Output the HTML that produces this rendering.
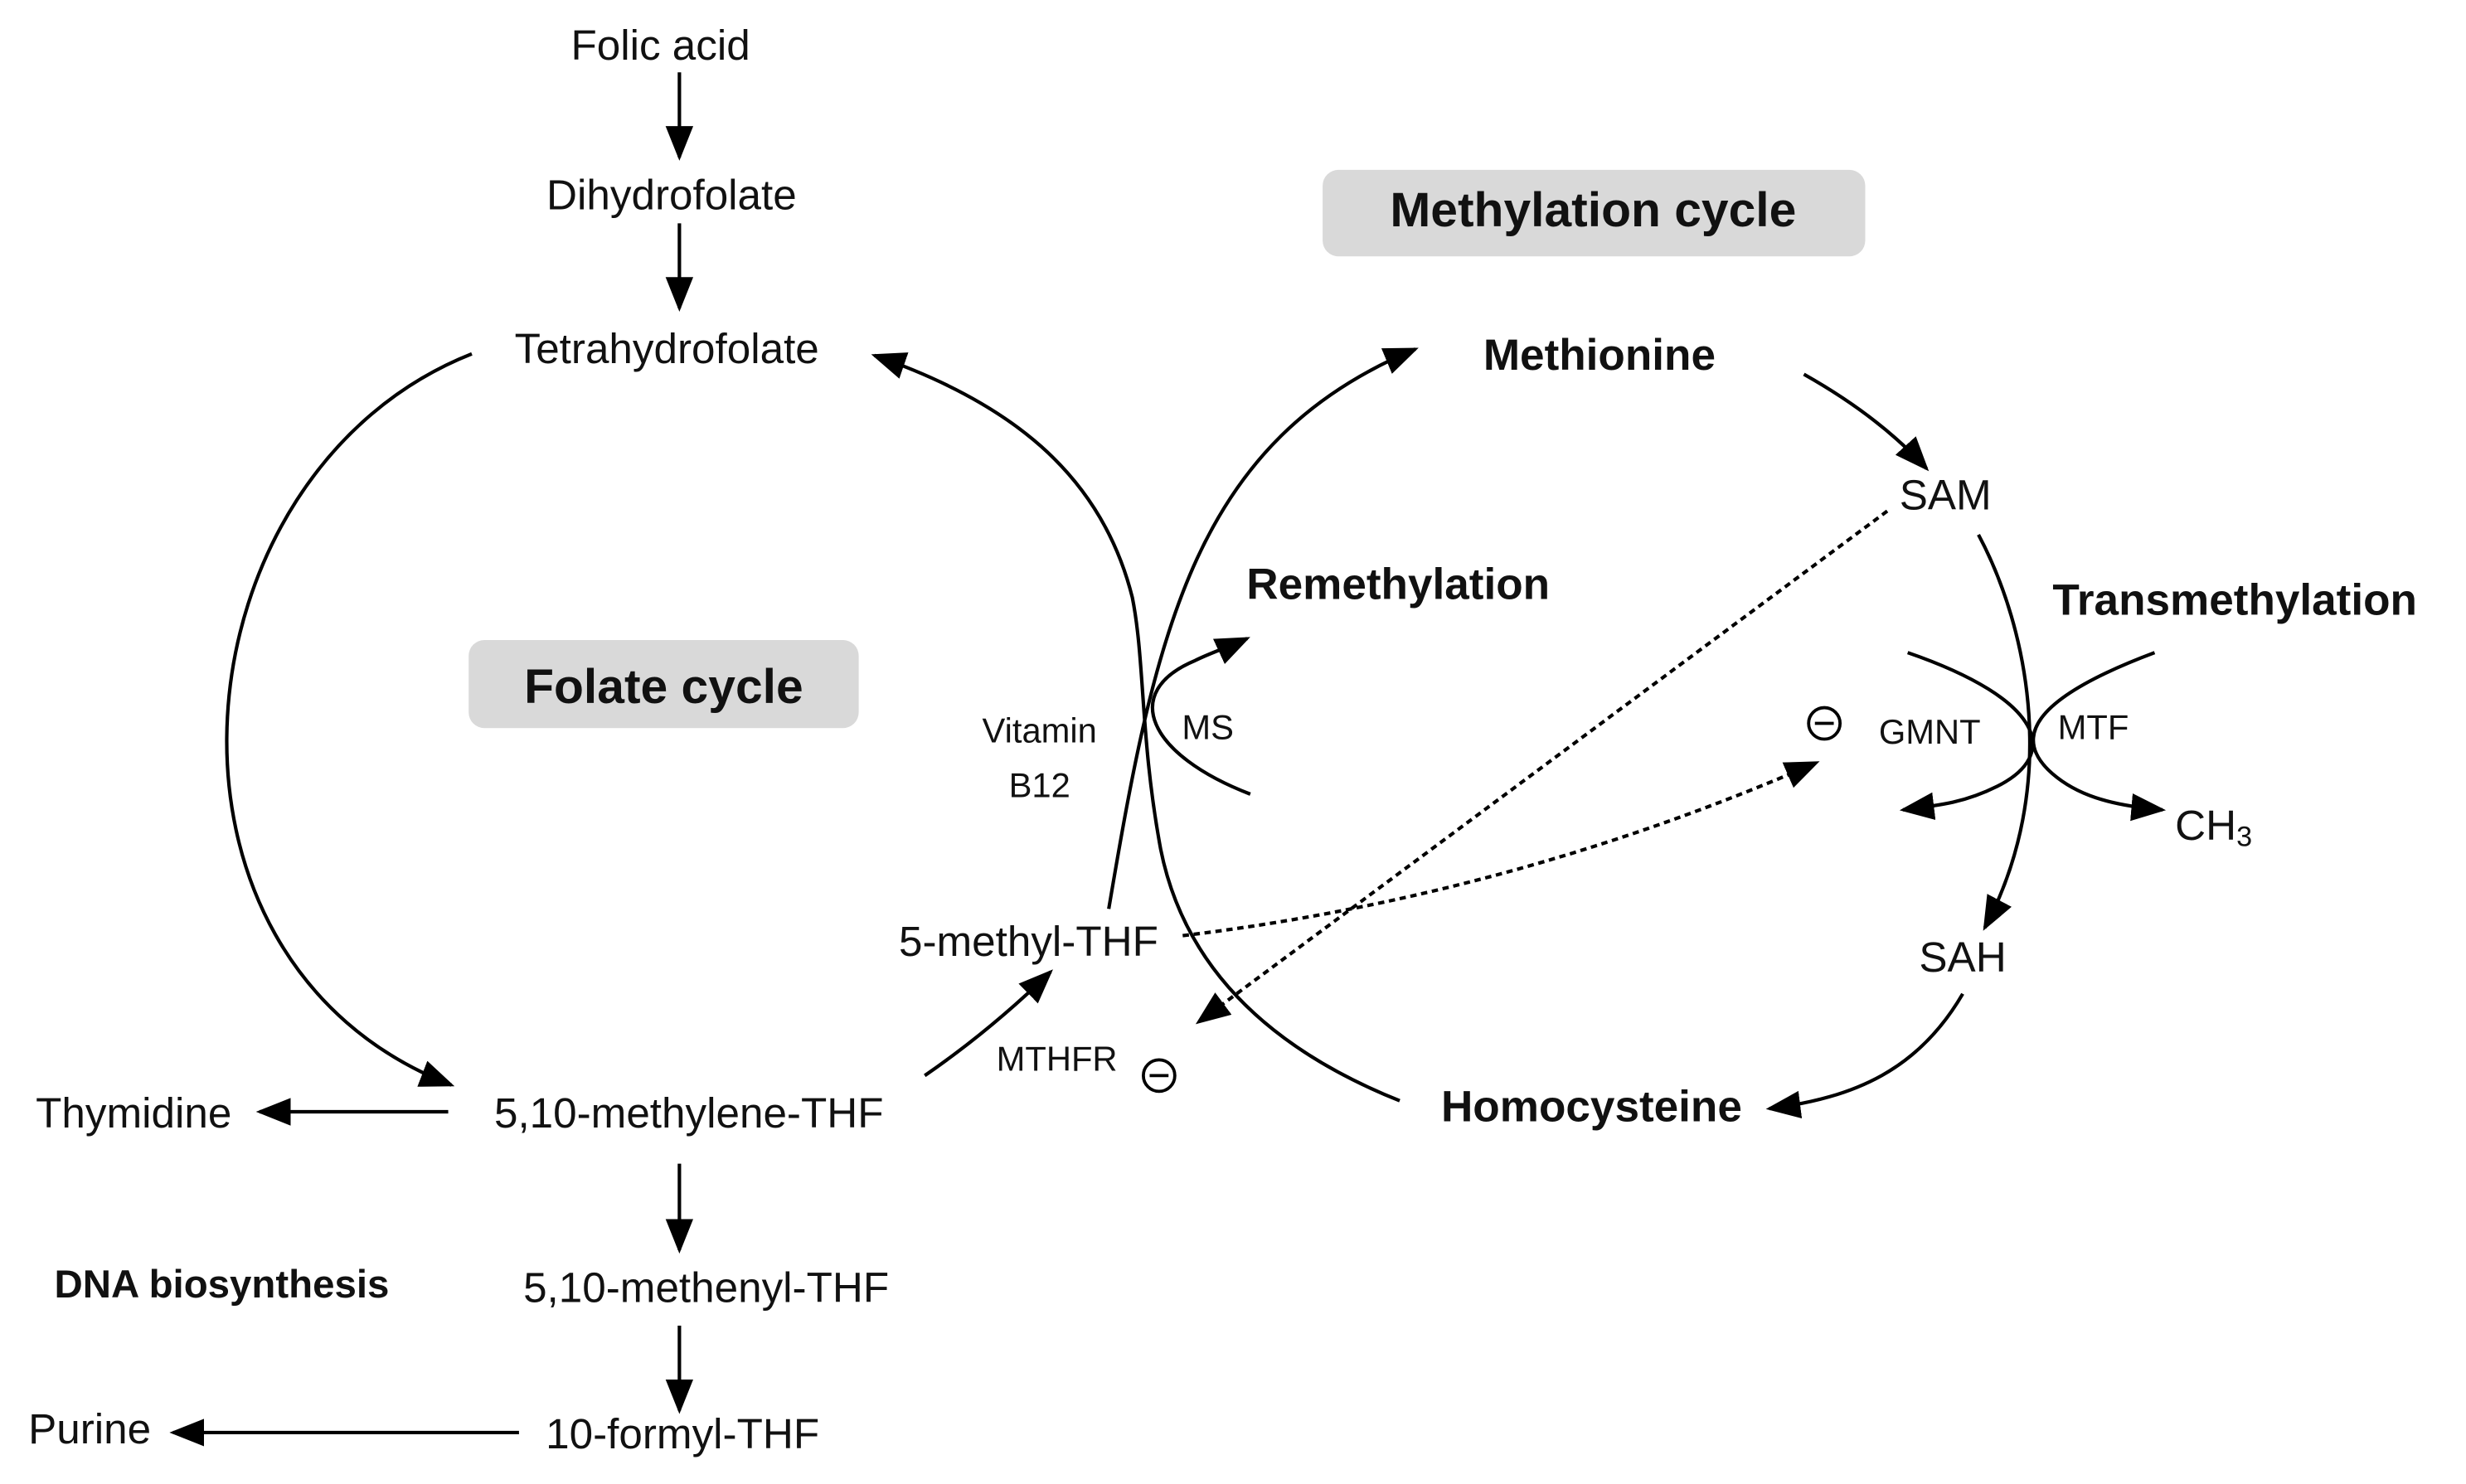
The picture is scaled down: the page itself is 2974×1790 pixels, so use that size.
<!DOCTYPE html>
<html><head><meta charset="utf-8"><style>html,body{margin:0;padding:0;background:#fff}svg{display:block}</style></head>
<body>
<svg width="2974" height="1790" viewBox="0 0 1568 943.7" xmlns="http://www.w3.org/2000/svg" font-family="Liberation Sans, Arial, sans-serif">
<defs>
<marker id="a" viewBox="0 0 10 10" refX="9" refY="5" markerWidth="9" markerHeight="9" markerUnits="userSpaceOnUse" orient="auto"><path d="M0,0 L10,5 L0,10 z" fill="#000"/></marker>
<marker id="b" viewBox="0 0 10 10" refX="9" refY="5" markerWidth="22" markerHeight="22" markerUnits="userSpaceOnUse" orient="auto"><path d="M0,1 L10,5 L0,9 z" fill="#000"/></marker>
</defs>
<rect x="841" y="108" width="345" height="55" rx="10" fill="#d9d9d9"/>
<rect x="298" y="407" width="248" height="56" rx="10" fill="#d9d9d9"/>
<g fill="none" stroke="#000" stroke-width="2.2">
<line x1="432" y1="46" x2="432" y2="100" marker-end="url(#b)"/>
<line x1="432" y1="142" x2="432" y2="196" marker-end="url(#b)"/>
<line x1="432" y1="740" x2="432" y2="795" marker-end="url(#b)"/>
<line x1="432" y1="843" x2="432" y2="897" marker-end="url(#b)"/>
<line x1="285" y1="707" x2="165" y2="707" marker-end="url(#b)"/>
<line x1="330" y1="911" x2="110" y2="911" marker-end="url(#b)"/>
<path d="M300,225 C110,300 80,610 287,690" marker-end="url(#b)"/>
<path d="M588,684 Q630,655 668,618" marker-end="url(#b)"/>
<path d="M890,700 C790,660 750,600 738,540 C725,470 728,420 720,380 C700,300 640,255 556,226" marker-end="url(#b)"/>
<path d="M705,578 C735,400 760,280 900,222" marker-end="url(#b)"/>
<path d="M795,505 C730,480 712,440 760,420 C770,415 780,412 793,406" marker-end="url(#b)"/>
<path d="M1147,238 Q1195,265 1225,298" marker-end="url(#b)"/>
<path d="M1258,340 C1290,400 1310,500 1262,590" marker-end="url(#b)"/>
<path d="M1248,632 C1220,680 1180,698 1125,705" marker-end="url(#b)"/>
<path d="M1213,415 C1300,445 1310,480 1270,500 C1250,510 1235,512 1210,515" marker-end="url(#b)"/>
<path d="M1370,415 C1290,445 1280,470 1305,492 C1320,505 1340,512 1375,515" marker-end="url(#b)"/>
</g>
<g fill="none" stroke="#000" stroke-width="2.2" stroke-dasharray="4,3">
<path d="M1200,325 L762,650" marker-end="url(#b)"/>
<path d="M752,595 Q960,570 1155,485" marker-end="url(#b)"/>
</g>
<g fill="#fff" stroke="#000" stroke-width="2"><circle cx="1160" cy="460" r="10"/><circle cx="737" cy="684" r="10"/></g>
<g stroke="#000" stroke-width="2"><line x1="1154" y1="460" x2="1166" y2="460"/><line x1="731" y1="684" x2="743" y2="684"/></g>
<g font-size="27" fill="#111">
<text x="420" y="38" text-anchor="middle">Folic acid</text>
<text x="427" y="133" text-anchor="middle">Dihydrofolate</text>
<text x="424" y="231" text-anchor="middle">Tetrahydrofolate</text>
<text x="1237" y="324" text-anchor="middle">SAM</text>
<text x="1248" y="618" text-anchor="middle">SAH</text>
<text x="654" y="608" text-anchor="middle">5-methyl-THF</text>
<text x="438" y="717" text-anchor="middle">5,10-methylene-THF</text>
<text x="85" y="717" text-anchor="middle">Thymidine</text>
<text x="449" y="828" text-anchor="middle">5,10-methenyl-THF</text>
<text x="434" y="921" text-anchor="middle">10-formyl-THF</text>
<text x="57" y="918" text-anchor="middle">Purine</text>
<text x="1383" y="534">CH<tspan font-size="18" dy="4">3</tspan></text>
</g>
<g font-size="28" font-weight="bold" fill="#111">
<text x="1013" y="144" text-anchor="middle" font-size="31">Methylation cycle</text>
<text x="422" y="447" text-anchor="middle" font-size="31">Folate cycle</text>
<text x="1017" y="235" text-anchor="middle">Methionine</text>
<text x="889" y="381" text-anchor="middle">Remethylation</text>
<text x="1421" y="391" text-anchor="middle">Transmethylation</text>
<text x="1012" y="713" text-anchor="middle">Homocysteine</text>
<text x="141" y="825" text-anchor="middle" font-size="25">DNA biosynthesis</text>
</g>
<g font-size="22" fill="#111">
<text x="661" y="472" text-anchor="middle">Vitamin</text>
<text x="661" y="507" text-anchor="middle">B12</text>
<text x="768" y="470" text-anchor="middle">MS</text>
<text x="1227" y="473" text-anchor="middle">GMNT</text>
<text x="1331" y="470" text-anchor="middle">MTF</text>
<text x="672" y="681" text-anchor="middle">MTHFR</text>
</g>
</svg>
</body></html>
